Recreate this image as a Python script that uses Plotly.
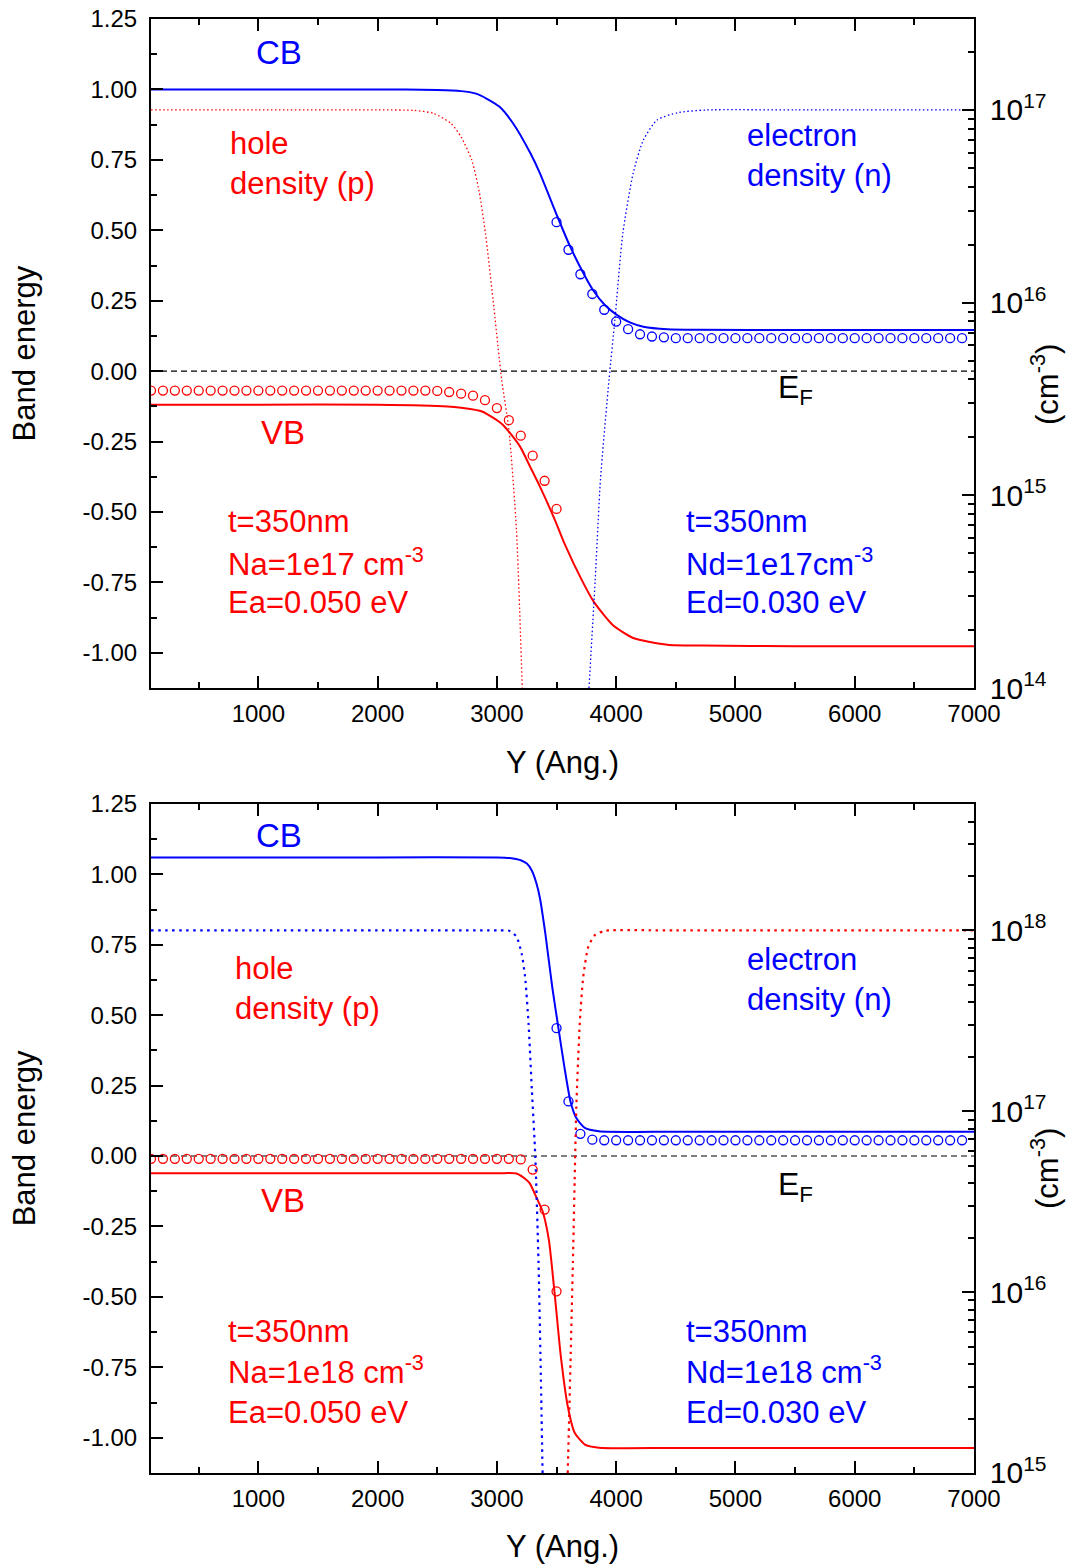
import plotly.graph_objects as go

BLUE = "#0000FF"
RED = "#FF0000"
FONT = "Liberation Sans, Arial, sans-serif"

# ---------------- axis ranges ----------------
X_RANGE = [100, 7000]
E_RANGE = [-1.125, 1.25]
LOGN_TOP = [14, 17.472]
LOGN_BOT = [15, 18.70]
E_F = 0.0

# ---------------- TOP PANEL (Na = Nd = 1e17) ----------------
top_cb_x = [100, 1000, 2000, 2500, 2700, 2818, 2920, 3020, 3135, 3279, 3360, 3507, 3608,
            3710, 3804, 3905, 4005, 4114, 4228, 4430, 4700, 5500, 7000]
top_cb_E = [1.000, 1.000, 1.000, 0.998, 0.994, 0.986, 0.966, 0.939, 0.880, 0.775, 0.703, 0.549, 0.448,
            0.360, 0.289, 0.235, 0.200, 0.173, 0.158, 0.149, 0.147, 0.146, 0.146]

top_vb_x = [100, 1000, 2000, 2587, 2700, 2875, 3049, 3193, 3277, 3360, 3485, 3565, 3710,
            3810, 3969, 4142, 4430, 4717, 5500, 7000]
top_vb_E = [-0.119, -0.119, -0.119, -0.125, -0.130, -0.143, -0.190, -0.267, -0.338, -0.409, -0.527, -0.610, -0.740,
            -0.817, -0.900, -0.947, -0.971, -0.974, -0.976, -0.976]

top_vbc_x = [100, 200, 300, 400, 500, 600, 700, 800, 900, 1000, 1100, 1200, 1300, 1400, 1500, 1600,
             1700, 1800, 1900, 2000, 2100, 2200, 2300, 2400, 2500, 2600, 2700, 2800, 2900, 3000,
             3100, 3200, 3300, 3400, 3500]
top_vbc_E = [-0.069, -0.069, -0.069, -0.069, -0.069, -0.069, -0.069, -0.069, -0.069, -0.069, -0.069,
             -0.069, -0.069, -0.069, -0.069, -0.069, -0.069, -0.069, -0.069, -0.069, -0.069, -0.069,
             -0.069, -0.069, -0.070, -0.074, -0.080, -0.087, -0.103, -0.131, -0.174, -0.229, -0.300,
             -0.389, -0.489]

top_cbc_x = [3500, 3600, 3700, 3800, 3900, 4000, 4100, 4200, 4300, 4400, 4500, 4600, 4700, 4800,
             4900, 5000, 5100, 5200, 5300, 5400, 5500, 5600, 5700, 5800, 5900, 6000, 6100, 6200,
             6300, 6400, 6500, 6600, 6700, 6800, 6900]
top_cbc_E = [0.529, 0.431, 0.344, 0.274, 0.218, 0.176, 0.149, 0.131, 0.123, 0.120, 0.117, 0.117,
             0.117, 0.117, 0.117, 0.117, 0.117, 0.117, 0.117, 0.117, 0.117, 0.117, 0.117, 0.117,
             0.117, 0.117, 0.117, 0.117, 0.117, 0.117, 0.117, 0.117, 0.117, 0.117, 0.117]

# densities: log10(cm^-3)
top_p_x = [100, 1000, 2000, 2300, 2470, 2615, 2700, 2789, 2850, 2904, 2968, 3040, 3101, 3164, 3213]
top_p_log = [17.0, 17.0, 17.0, 16.998, 16.982, 16.93, 16.86, 16.741, 16.58, 16.36, 16.014, 15.6,
             15.34, 14.821, 14.0]
top_n_x = [3772, 3824, 3868, 3940, 3989, 4056, 4142, 4228, 4343, 4516, 4757, 5500, 7000]
top_n_log = [14.0, 14.56, 15.08, 15.6, 15.91, 16.36, 16.671, 16.844, 16.948, 16.986, 17.0, 17.0, 17.0]

# ---------------- BOTTOM PANEL (Na = Nd = 1e18) ----------------
bot_cb_x = [100, 1000, 2000, 3000, 3106, 3200, 3251, 3290, 3330, 3361, 3406, 3464, 3516, 3565,
            3617, 3666, 3737, 3854, 4500, 7000]
bot_cb_E = [1.060, 1.060, 1.060, 1.060, 1.058, 1.050, 1.038, 1.015, 0.970, 0.915, 0.790, 0.600, 0.454,
            0.318, 0.194, 0.135, 0.100, 0.088, 0.086, 0.086]

bot_vb_x = [100, 1000, 2000, 3000, 3164, 3251, 3277, 3334, 3383, 3435, 3485, 3536, 3594, 3652,
            3738, 3854, 4500, 7000]
bot_vb_E = [-0.061, -0.061, -0.061, -0.061, -0.062, -0.086, -0.098, -0.149, -0.196, -0.296, -0.492,
            -0.711, -0.888, -0.982, -1.024, -1.035, -1.036, -1.036]

bot_vbc_x = [100, 200, 300, 400, 500, 600, 700, 800, 900, 1000, 1100, 1200, 1300, 1400, 1500, 1600,
             1700, 1800, 1900, 2000, 2100, 2200, 2300, 2400, 2500, 2600, 2700, 2800, 2900, 3000,
             3100, 3200, 3300, 3400, 3500]
bot_vbc_E = [-0.010, -0.010, -0.010, -0.010, -0.010, -0.010, -0.010, -0.010, -0.010, -0.010, -0.010,
             -0.010, -0.010, -0.010, -0.010, -0.010, -0.010, -0.010, -0.010, -0.010, -0.010, -0.010,
             -0.010, -0.010, -0.010, -0.010, -0.010, -0.010, -0.010, -0.010, -0.010, -0.012, -0.048,
             -0.190, -0.480]

bot_cbc_x = [3500, 3600, 3700, 3800, 3900, 4000, 4100, 4200, 4300, 4400, 4500, 4600, 4700, 4800,
             4900, 5000, 5100, 5200, 5300, 5400, 5500, 5600, 5700, 5800, 5900, 6000, 6100, 6200,
             6300, 6400, 6500, 6600, 6700, 6800, 6900]
bot_cbc_E = [0.454, 0.194, 0.079, 0.058, 0.056, 0.056, 0.056, 0.056, 0.056, 0.056, 0.056, 0.056,
             0.056, 0.056, 0.056, 0.056, 0.056, 0.056, 0.056, 0.056, 0.056, 0.056, 0.056, 0.056,
             0.056, 0.056, 0.056, 0.056, 0.056, 0.056, 0.056, 0.056, 0.056, 0.056, 0.056]

bot_n_x = [100, 1000, 2000, 3000, 3106, 3164, 3207, 3236, 3265, 3293, 3322, 3349, 3369, 3383]
bot_n_log = [18.0, 18.0, 18.0, 18.0, 17.998, 17.966, 17.874, 17.745, 17.488, 17.119, 16.75, 16.161,
             15.516, 15.0]
bot_p_x = [3594, 3617, 3637, 3652, 3666, 3695, 3724, 3767, 3824, 3911, 4500, 7000]
bot_p_log = [15.0, 15.608, 16.161, 16.62, 17.027, 17.488, 17.745, 17.911, 17.976, 17.998, 18.0, 18.0]

# ---------------- figure ----------------
fig = go.Figure()


def add_line(x, y, color, xa, ya, width=2.0, dash="solid"):
    fig.add_trace(go.Scatter(x=x, y=y, mode="lines", xaxis=xa, yaxis=ya, showlegend=False,
                             hoverinfo="skip",
                             line=dict(color=color, width=width, dash=dash, shape="spline",
                                       smoothing=0.6)))


def add_circles(x, y, color, xa, ya):
    fig.add_trace(go.Scatter(x=x, y=y, mode="markers", xaxis=xa, yaxis=ya, showlegend=False,
                             hoverinfo="skip",
                             marker=dict(symbol="circle-open", size=9, color=color,
                                         line=dict(width=1.3, color=color))))


def dens(logs):
    return [10 ** v for v in logs]


# top
add_line(X_RANGE, [E_F, E_F], "black", "x", "y", width=1.1, dash="6px,4px")
add_line(top_cb_x, top_cb_E, BLUE, "x", "y")
add_line(top_vb_x, top_vb_E, RED, "x", "y")
add_circles(top_vbc_x, top_vbc_E, RED, "x", "y")
add_circles(top_cbc_x, top_cbc_E, BLUE, "x", "y")
add_line(top_p_x, dens(top_p_log), RED, "x", "y2", width=1.3, dash="1.5px,2.5px")
add_line(top_n_x, dens(top_n_log), BLUE, "x", "y2", width=1.3, dash="1.5px,2.5px")

# bottom
add_line(X_RANGE, [E_F, E_F], "black", "x2", "y3", width=1.1, dash="6px,4px")
add_line(bot_cb_x, bot_cb_E, BLUE, "x2", "y3")
add_line(bot_vb_x, bot_vb_E, RED, "x2", "y3")
add_circles(bot_vbc_x, bot_vbc_E, RED, "x2", "y3")
add_circles(bot_cbc_x, bot_cbc_E, BLUE, "x2", "y3")
add_line(bot_n_x, dens(bot_n_log), BLUE, "x2", "y4", width=2.2, dash="2.5px,4.5px")
add_line(bot_p_x, dens(bot_p_log), RED, "x2", "y4", width=2.2, dash="2.5px,4.5px")

# ---------------- axes ----------------
TICKFONT = dict(family=FONT, size=24, color="black")
TITLEFONT = dict(family=FONT, size=31, color="black")
e_ticks = [-1.0, -0.75, -0.5, -0.25, 0.0, 0.25, 0.5, 0.75, 1.0, 1.25]
e_text = [f"{v:.2f}" for v in e_ticks]


def xaxis_cfg(anchor):
    return dict(anchor=anchor, domain=[0, 1], range=X_RANGE, showline=True, linewidth=2,
                linecolor="black", mirror="ticks", ticks="inside", ticklen=12, tickwidth=2,
                tickcolor="black", tick0=0, dtick=1000, showgrid=False, zeroline=False,
                tickfont=TICKFONT, ticklabelstandoff=3, automargin=False,
                minor=dict(ticks="inside", ticklen=6, tickwidth=2, tickcolor="black",
                           tick0=0, dtick=500, showgrid=False),
                title=dict(text="Y (Ang.)", font=TITLEFONT, standoff=25))


def yaxis_cfg(anchor, domain):
    return dict(anchor=anchor, domain=domain, range=E_RANGE, showline=True, linewidth=2,
                linecolor="black", mirror=False, ticks="inside", ticklen=12, tickwidth=2,
                tickcolor="black", tickmode="array", tickvals=e_ticks, ticktext=e_text,
                showgrid=False, zeroline=False, tickfont=TICKFONT, ticklabelstandoff=7,
                automargin=False,
                minor=dict(ticks="inside", ticklen=6, tickwidth=2, tickcolor="black",
                           tickmode="linear", tick0=0, dtick=0.125, showgrid=False),
                title=dict(text="Band energy", font=TITLEFONT, standoff=38))


def logaxis_cfg(anchor, overlay, rng):
    return dict(anchor=anchor, overlaying=overlay, side="right", type="log", range=rng,
                showline=True, linewidth=2, linecolor="black", ticks="inside", ticklen=12,
                tickwidth=2, tickcolor="black", dtick=1, exponentformat="power",
                showgrid=False, zeroline=False, tickfont=TICKFONT, ticklabelstandoff=9,
                automargin=False,
                minor=dict(ticks="inside", ticklen=6, tickwidth=2, tickcolor="black",
                           dtick="D1", showgrid=False))


TOP_DOM = [0.5398, 1.0]
BOT_DOM = [0.0, 0.4602]

fig.update_layout(
    width=1069, height=1566,
    margin=dict(l=151, r=95, t=19, b=93, pad=0, autoexpand=False),
    paper_bgcolor="white", plot_bgcolor="white",
    font=dict(family=FONT, color="black"),
    showlegend=False,
    xaxis=xaxis_cfg("y"),
    yaxis=yaxis_cfg("x", TOP_DOM),
    yaxis2=logaxis_cfg("x", "y", LOGN_TOP),
    xaxis2=xaxis_cfg("y3"),
    yaxis3=yaxis_cfg("x2", BOT_DOM),
    yaxis4=logaxis_cfg("x2", "y3", LOGN_BOT),
)

# ---------------- text annotations (pixel positions -> paper) ----------------
PL, PW = 151.0, 823.0
PB, PH = 1473.0, 1454.0


def ann(text, xpix, ypix, color, size=31, xanchor="left", angle=0):
    fig.add_annotation(text=text, xref="paper", yref="paper",
                       x=(xpix - PL) / PW, y=(PB - ypix) / PH,
                       xanchor=xanchor, yanchor="middle", showarrow=False, textangle=angle,
                       align="left", font=dict(family=FONT, size=size, color=color))


# top panel labels
ann("CB", 254, 53, BLUE, size=33)
ann("VB", 259, 432, RED, size=33)
ann("E<sub>F</sub>", 776, 390, "black", size=32)
ann("hole<br>density (p)", 228, 164, RED)
ann("electron<br>density (n)", 745, 155, BLUE)
ann("t=350nm", 226, 521, RED)
ann("Na=1e17 cm<sup>-3</sup>", 226, 562, RED)
ann("Ea=0.050 eV", 226, 602, RED)
ann("t=350nm", 684, 521, BLUE)
ann("Nd=1e17cm<sup>-3</sup>", 684, 562, BLUE)
ann("Ed=0.030 eV", 684, 602, BLUE)
ann("(cm<sup>-3</sup>)", 1045, 385, "black", xanchor="center", angle=-90)

# bottom panel labels
ann("CB", 254, 835, BLUE, size=33)
ann("VB", 259, 1200, RED, size=33)
ann("E<sub>F</sub>", 776, 1186, "black", size=32)
ann("hole<br>density (p)", 233, 988, RED)
ann("electron<br>density (n)", 745, 980, BLUE)
ann("t=350nm", 226, 1331, RED)
ann("Na=1e18 cm<sup>-3</sup>", 226, 1370, RED)
ann("Ea=0.050 eV", 226, 1412, RED)
ann("t=350nm", 684, 1331, BLUE)
ann("Nd=1e18 cm<sup>-3</sup>", 684, 1370, BLUE)
ann("Ed=0.030 eV", 684, 1412, BLUE)
ann("(cm<sup>-3</sup>)", 1045, 1169, "black", xanchor="center", angle=-90)

fig.write_html("out.html")
